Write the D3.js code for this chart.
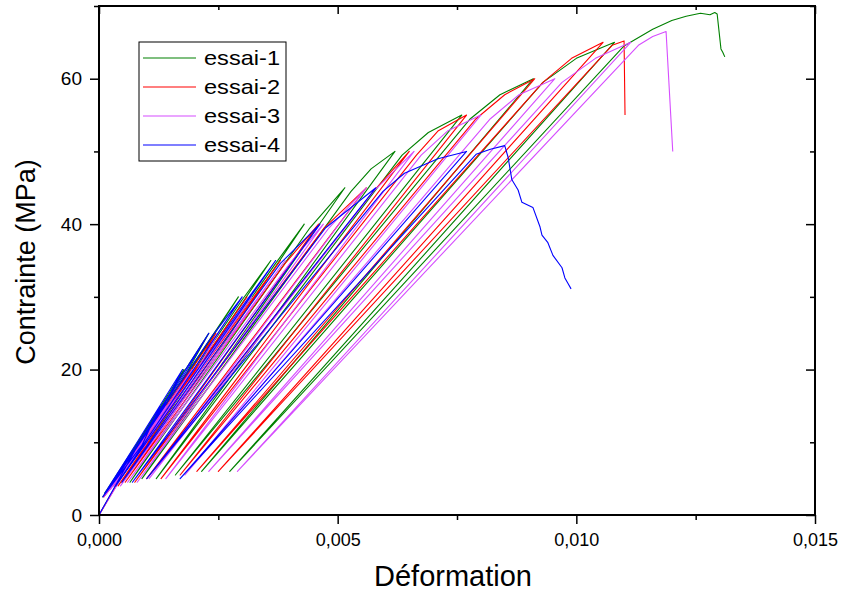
<!DOCTYPE html>
<html><head><meta charset="utf-8">
<script src="https://cdn.jsdelivr.net/npm/d3@7"></script>
<style>
body{margin:0;background:#fff;}
text{font-family:"Liberation Sans",Arial,sans-serif;fill:#000;}
</style></head>
<body><svg id="c" width="842" height="592"></svg>
<script>
// ---- data: [strain, stress (MPa)] vertices of each cyclic test ----
const seriesNames = ["essai-1","essai-2","essai-3","essai-4"];
const seriesColors = ["#008000","#ff0000","#d64dff","#0000ff"];

const essai1 = [[0,0],[0.00088,10],[0.00008,2.5],[0.00092,9.6],[0.0013,15],[0.00012,3],[0.00135,14.6],
 [0.00178,20],[0.00018,3.5],[0.00184,19.6],[0.0023,25],[0.00025,4],[0.00237,24.6],[0.00292,30],[0.00035,4],
 [0.003,29.6],[0.0036,35],[0.00048,4.5],[0.0037,34.6],[0.0043,40],[0.00065,4.5],[0.00442,39.5],[0.00515,45],
 [0.0009,5],[0.00528,44.5],[0.0057,47.6],[0.0062,50],[0.0012,5],[0.00635,49.5],[0.0069,52.6],[0.0076,55],
 [0.0016,5.5],[0.00778,54.5],[0.0084,57.8],[0.0091,60],[0.00215,6],[0.0093,59.5],[0.0100,62.8],[0.0108,65],
 [0.00274,6],[0.0110,64.5],[0.0116,66.8],[0.0120,68],[0.0123,68.6],[0.0126,69],[0.0128,68.8],[0.0129,69.1],
 [0.01295,68.9],[0.01303,64.1],[0.01307,63.6],[0.01311,63.0]];

const essai2 = [[0,0],[0.0009,10],[0.0001,2.5],[0.00095,9.6],[0.00138,15],[0.00015,3],[0.00144,14.6],
 [0.0019,20],[0.00022,3.5],[0.00197,19.6],[0.00245,25],[0.0003,4],[0.00253,24.6],[0.0031,30],[0.0004,4],
 [0.0032,29.6],[0.0038,35],[0.00055,4.5],[0.0039,34.6],[0.0046,40],[0.00075,4.5],[0.00472,39.5],[0.0056,45],
 [0.001,5],[0.00575,44.5],[0.0065,50],[0.0013,5],[0.00665,49.5],[0.0071,52.8],[0.0077,55],[0.0017,5.5],
 [0.0079,54.5],[0.0085,57.8],[0.00913,60],[0.00205,6],[0.0093,59.5],[0.0099,62.8],[0.01056,65],[0.0025,6],
 [0.01075,64.6],[0.0110,65.2],[0.01102,55]];

const essai3 = [[0,0],[0.00092,10],[0.0001,2.5],[0.00097,9.6],[0.0014,15],[0.00016,3],[0.00146,14.6],
 [0.00195,20],[0.00024,3.5],[0.00202,19.6],[0.0025,25],[0.00033,4],[0.00258,24.6],[0.0032,30],[0.00045,4],
 [0.0033,29.6],[0.0039,35],[0.0006,4.5],[0.004,34.6],[0.0047,40],[0.0008,4.5],[0.00482,39.5],[0.0056,45],
 [0.00105,5],[0.00575,44.5],[0.0066,50],[0.0014,5],[0.00675,49.5],[0.0073,52.8],[0.0080,55],[0.0018,5.5],
 [0.0082,54.5],[0.0088,57.8],[0.00955,60],[0.0023,6],[0.0097,59.5],[0.0104,62.8],[0.01114,65],[0.0029,6],
 [0.0113,64.6],[0.0116,65.8],[0.01188,66.5],[0.01202,50]];

const essai4 = [[0,0],[0.00085,10],[0.00008,2.5],[0.0009,9.6],[0.00128,15],[0.00012,3],[0.00133,14.6],
 [0.00175,20],[0.00018,3.5],[0.00181,19.6],[0.0023,25],[0.00025,4],[0.00237,24.6],[0.003,30],[0.00035,4],
 [0.0031,29.6],[0.0037,35],[0.00048,4.5],[0.0038,34.6],[0.00463,40],[0.0007,4.5],[0.00475,39.5],[0.0058,45],
 [0.001,5],[0.00595,44.5],[0.0064,47],[0.0071,49],[0.0077,50],[0.0017,5],[0.0079,49.6],[0.0082,50.3],
 [0.0085,50.8],[0.00857,49.2],[0.00865,46.1],[0.00878,44.7],[0.00886,43.0],[0.00909,42.3],[0.00924,39.6],
 [0.00928,38.5],[0.0094,37.5],[0.00951,35.7],[0.0097,34.0],[0.00976,32.6],[0.00982,31.9],[0.00989,31.1]];

const xMajorTicks = [0,0.005,0.010,0.015];
const xMinorTicks = [0.0025,0.0075,0.0125];
const xTickLabels = ["0,000","0,005","0,010","0,015"];
const yMajorTicks = [0,20,40,60];
const yMinorTicks = [10,30,50,70];
const yTickLabels = ["0","20","40","60"];
const xTitle = "Déformation";
const yTitle = "Contrainte (MPa)";

// ---- chart ----
const svg = d3.select("#c");
const L=99,R=815,T=6,B=515;
const x = d3.scaleLinear().domain([0,0.015]).range([L,R]);
const y = d3.scaleLinear().domain([0,70]).range([B,T]);

const line = d3.line().x(d=>x(d[0])).y(d=>y(d[1]));
[essai1,essai2,essai3,essai4].forEach((s,i)=>{
  svg.append("path").attr("d",line(s)).attr("fill","none")
    .attr("stroke",seriesColors[i]).attr("stroke-width",1.1).attr("stroke-linejoin","round");
});

function styleAxis(g){ g.select(".domain").remove(); g.selectAll("line").attr("stroke","#000").attr("stroke-width",1.5);
  g.selectAll("text").attr("font-family",'"Liberation Sans",Arial,sans-serif').attr("fill","#000"); }

// bottom
svg.append("g").attr("transform",`translate(0,${B})`)
  .call(d3.axisBottom(x).tickValues(xMajorTicks).tickSize(9).tickPadding(9).tickFormat((d,i)=>xTickLabels[i]))
  .call(styleAxis).selectAll("text").attr("font-size",18);
svg.append("g").attr("transform",`translate(0,${B})`)
  .call(d3.axisBottom(x).tickValues(xMinorTicks).tickSize(5).tickFormat("")).call(styleAxis);
// top (inward)
svg.append("g").attr("transform",`translate(0,${T})`)
  .call(d3.axisBottom(x).tickValues(xMajorTicks).tickSize(8).tickFormat("")).call(styleAxis);
svg.append("g").attr("transform",`translate(0,${T})`)
  .call(d3.axisBottom(x).tickValues(xMinorTicks).tickSize(4).tickFormat("")).call(styleAxis);
// left
svg.append("g").attr("transform",`translate(${L},0)`)
  .call(d3.axisLeft(y).tickValues(yMajorTicks).tickSize(9).tickPadding(8).tickFormat((d,i)=>yTickLabels[i]))
  .call(styleAxis).selectAll("text").attr("font-size",19);
svg.append("g").attr("transform",`translate(${L},0)`)
  .call(d3.axisLeft(y).tickValues(yMinorTicks).tickSize(5).tickFormat("")).call(styleAxis);
// right (inward)
svg.append("g").attr("transform",`translate(${R},0)`)
  .call(d3.axisLeft(y).tickValues(yMajorTicks).tickSize(9).tickFormat("")).call(styleAxis);
svg.append("g").attr("transform",`translate(${R},0)`)
  .call(d3.axisLeft(y).tickValues(yMinorTicks).tickSize(5).tickFormat("")).call(styleAxis);

// frame
svg.append("rect").attr("x",L).attr("y",T).attr("width",R-L).attr("height",B-T)
  .attr("fill","none").attr("stroke","#000").attr("stroke-width",2);

// titles
svg.append("text").attr("x",453).attr("y",586).attr("text-anchor","middle")
  .attr("font-size",29).text(xTitle);
svg.append("text").attr("transform","translate(35,262) rotate(-90)").attr("text-anchor","middle")
  .attr("font-size",27).text(yTitle);

// legend
const lg = svg.append("g");
lg.append("rect").attr("x",139).attr("y",42).attr("width",147).attr("height",119)
  .attr("fill","#fff").attr("stroke","#000").attr("stroke-width",1);
seriesNames.forEach((n,i)=>{
  const yy = 58 + i*29;
  lg.append("line").attr("x1",143).attr("x2",196).attr("y1",yy).attr("y2",yy)
    .attr("stroke",seriesColors[i]).attr("stroke-width",1.1);
  lg.append("text").attr("x",204).attr("y",yy+7).attr("font-size",21)
    .attr("textLength",76).attr("lengthAdjust","spacingAndGlyphs").text(n);
});
</script></body></html>
